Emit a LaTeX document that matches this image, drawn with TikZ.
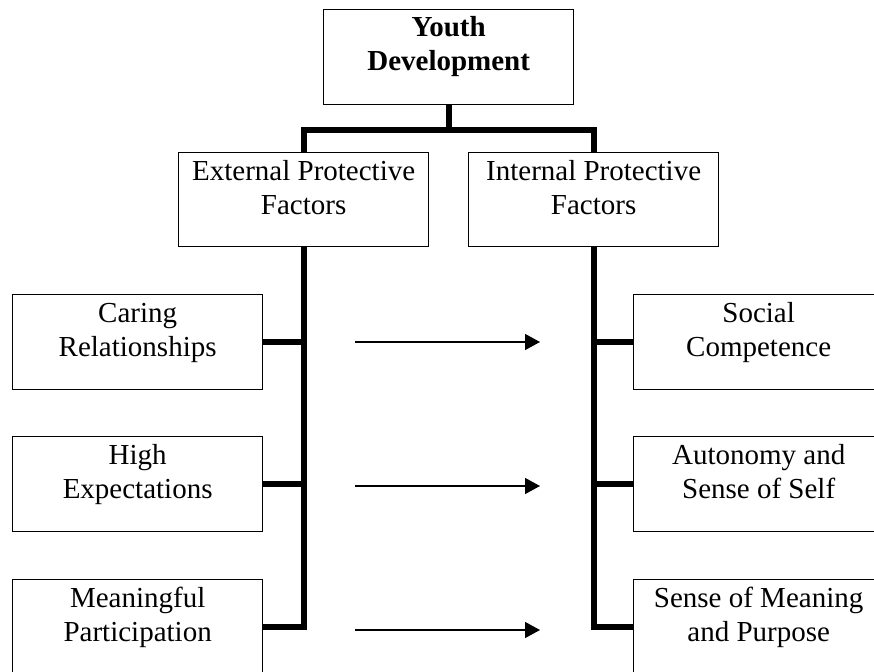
\documentclass[tikz,border=0pt]{standalone}
\usepackage{fontspec}
\setmainfont{Liberation Serif}
\usetikzlibrary{arrows.meta}
\tikzset{
  box/.style={draw, line width=1.3pt, minimum width=250pt, minimum height=95pt, inner sep=0pt, anchor=north west},
  txt/.style={anchor=base, inner sep=0pt, font=\fontsize{29}{34}\selectfont},
  conn/.style={line width=6pt, line join=miter},
  flow/.style={line width=1.5pt, -{Triangle[length=15pt, width=16pt]}}
}
\newcommand{\boxtext}[1]{\parbox[t]{250pt}{\centering #1}}
\begin{document}
\begin{tikzpicture}[x=1pt, y=-1pt]
\clip (0,0) rectangle (874,671);
\fill[white] (0,0) rectangle (874,671);
% boxes
\node[box] (top) at (323,9) {};
\node[box, minimum height=94pt] (ext) at (178,152) {};
\node[box, minimum height=94pt] (int) at (468,152) {};
\node[box] (l1) at (12,294) {};
\node[box] (l2) at (12,436) {};
\node[box] (l3) at (12,579) {};
\node[box] (r1) at (633,294) {};
\node[box] (r2) at (633,436) {};
\node[box] (r3) at (633,579) {};
% texts
\node[txt] (ttop) at ([yshift=-28pt]top.north) {\boxtext{\bfseries Youth\\ Development}};
\node[txt] (text) at ([yshift=-28pt]ext.north) {\boxtext{External Protective\\ Factors}};
\node[txt] (tint) at ([yshift=-28pt]int.north) {\boxtext{Internal Protective\\ Factors}};
\node[txt] (tl1) at ([yshift=-28pt]l1.north) {\boxtext{Caring\\ Relationships}};
\node[txt] (tl2) at ([yshift=-28pt]l2.north) {\boxtext{High\\ Expectations}};
\node[txt] (tl3) at ([yshift=-28pt]l3.north) {\boxtext{Meaningful\\ Participation}};
\node[txt] (tr1) at ([yshift=-28pt]r1.north) {\boxtext{Social\\ Competence}};
\node[txt] (tr2) at ([yshift=-28pt]r2.north) {\boxtext{Autonomy and\\ Sense of Self}};
\node[txt] (tr3) at ([yshift=-28pt]r3.north) {\boxtext{Sense of Meaning\\ and Purpose}};
% tree connectors
\draw[conn] (top.south) -- ++(0,27);
\draw[conn] (ext.north) -- ++(0,-22) -| (int.north);
\draw[conn] (ext.south) -- (ext.south |- l3.east) -- (l3.east);
\draw[conn] (l1.east) -- (l1.east -| ext.south);
\draw[conn] (l2.east) -- (l2.east -| ext.south);
\draw[conn] (int.south) -- (int.south |- r3.west) -- (r3.west);
\draw[conn] (r1.west) -- (r1.west -| int.south);
\draw[conn] (r2.west) -- (r2.west -| int.south);
% arrows
\coordinate (a1s) at (355,342); \coordinate (a1e) at (540,342);
\coordinate (a2s) at (355,486); \coordinate (a2e) at (540,486);
\coordinate (a3s) at (355,630); \coordinate (a3e) at (540,630);
\draw[flow] (a1s) -- (a1e);
\draw[flow] (a2s) -- (a2e);
\draw[flow] (a3s) -- (a3e);
\end{tikzpicture}
\end{document}
